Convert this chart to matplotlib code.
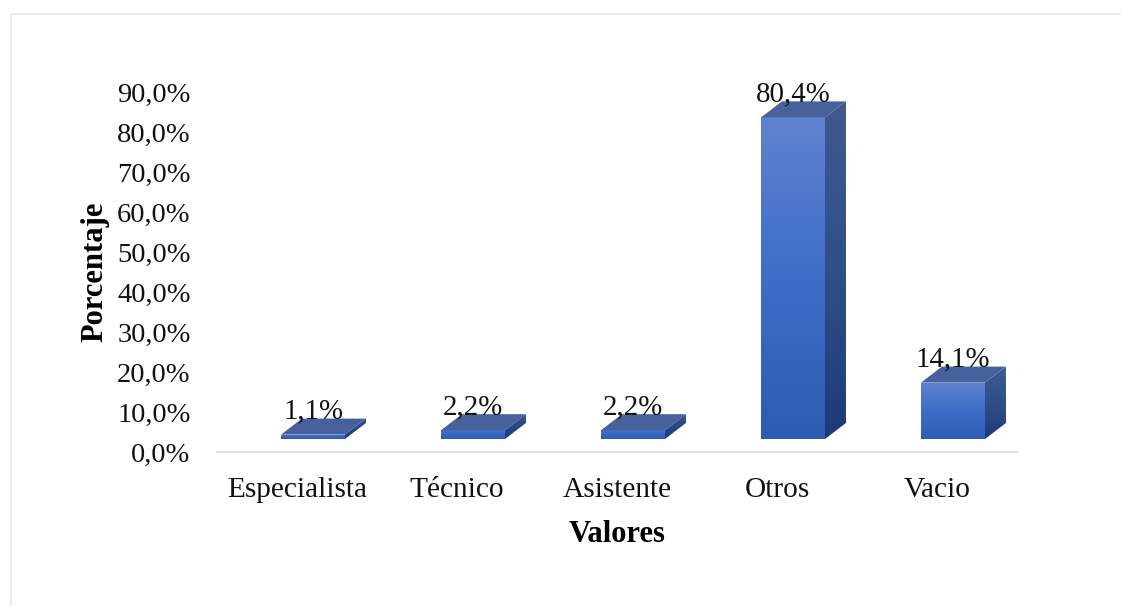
import numpy as np
import matplotlib.pyplot as plt
from matplotlib.colors import LinearSegmentedColormap
from matplotlib.lines import Line2D
from matplotlib.patches import Polygon

categories = ['Especialista', 'Técnico', 'Asistente', 'Otros', 'Vacio']
values = [1.1, 2.2, 2.2, 80.4, 14.1]
labels = ['1,1%', '2,2%', '2,2%', '80,4%', '14,1%']
yticks = [0, 10, 20, 30, 40, 50, 60, 70, 80, 90]
yticklabels = ['0,0%', '10,0%', '20,0%', '30,0%', '40,0%', '50,0%', '60,0%', '70,0%', '80,0%', '90,0%']

plt.rcParams['font.family'] = ['Liberation Serif', 'DejaVu Serif']
W, H = 1121, 606
fig = plt.figure(figsize=(W / 100, H / 100), dpi=100)
ax = fig.add_axes([217 / W, 1 - 452 / H, 800 / W, 360 / H])

# fake 3d box, sizes in data units
base = 3.25
bar_w = 0.4
shift = -0.1
dx = 0.131
dy = 4.0

front_cm = LinearSegmentedColormap.from_list('front', ['#5f82cf', '#3d6dc9', '#2c5cb2'])
side_cm = LinearSegmentedColormap.from_list('side', ['#3f5a8e', '#2f4f8a', '#1c3a78'])
top_col = '#46619c'


def grad(poly, cmap, x0, x1, y0, y1, short=False):
    ax.add_patch(poly)
    g = np.linspace(0.35 if short else 0, 1, 64).reshape(-1, 1)
    im = ax.imshow(g, cmap=cmap, vmin=0, vmax=1, extent=(x0, x1, y0, y1), origin='upper',
                   aspect='auto', zorder=3, interpolation='bilinear')
    im.set_clip_path(poly)


for i, v in enumerate(values):
    x0 = i + shift
    x1 = x0 + bar_w
    y0 = base
    y1 = base + v
    short = v < 5
    front = Polygon([(x0, y0), (x1, y0), (x1, y1), (x0, y1)], fc='none', ec='none')
    grad(front, front_cm, x0, x1, y0, y1, short)
    side = Polygon([(x1, y0), (x1 + dx, y0 + dy), (x1 + dx, y1 + dy), (x1, y1)], fc='none', ec='none')
    grad(side, side_cm, x1, x1 + dx, y0, y1 + dy, short)
    ax.add_patch(Polygon([(x0, y1), (x1, y1), (x1 + dx, y1 + dy), (x0 + dx, y1 + dy)],
                         fc=top_col, ec='none', zorder=4))
    ax.annotate(labels[i], (x0 + bar_w / 2, y1), xytext=(0, 11.5), textcoords='offset points',
                ha='center', va='baseline', fontsize=20.8, color='#111111', zorder=5)

ax.set_xlim(-0.5, 4.5)
ax.set_ylim(0, 90)
ax.set_xticks(range(len(categories)))
ax.set_xticklabels(categories)
ax.set_yticks(yticks)
ax.set_yticklabels(yticklabels)
ax.tick_params(axis='both', length=0, labelcolor='#111111')
ax.tick_params(axis='y', pad=19, labelsize=20.5)
ax.tick_params(axis='x', pad=18, labelsize=21.2)
for s in ['top', 'right', 'left']:
    ax.spines[s].set_visible(False)
ax.spines['bottom'].set_color('#e0e4ea')
ax.spines['bottom'].set_linewidth(1.6)
ax.set_xlabel('Valores', fontsize=22, fontweight='bold', labelpad=12)
ax.set_ylabel('Porcentaje', fontsize=22, fontweight='bold', labelpad=5.5)

# outer chart frame, open on the right and bottom
frame = '#e3e8f0'
fig.add_artist(Line2D([11 / W, 11 / W], [0, 1 - 14 / H], color=frame, lw=1.2))
fig.add_artist(Line2D([11 / W, 1], [1 - 14 / H, 1 - 14 / H], color=frame, lw=1.2))

fig.savefig('out.png', dpi=100)
